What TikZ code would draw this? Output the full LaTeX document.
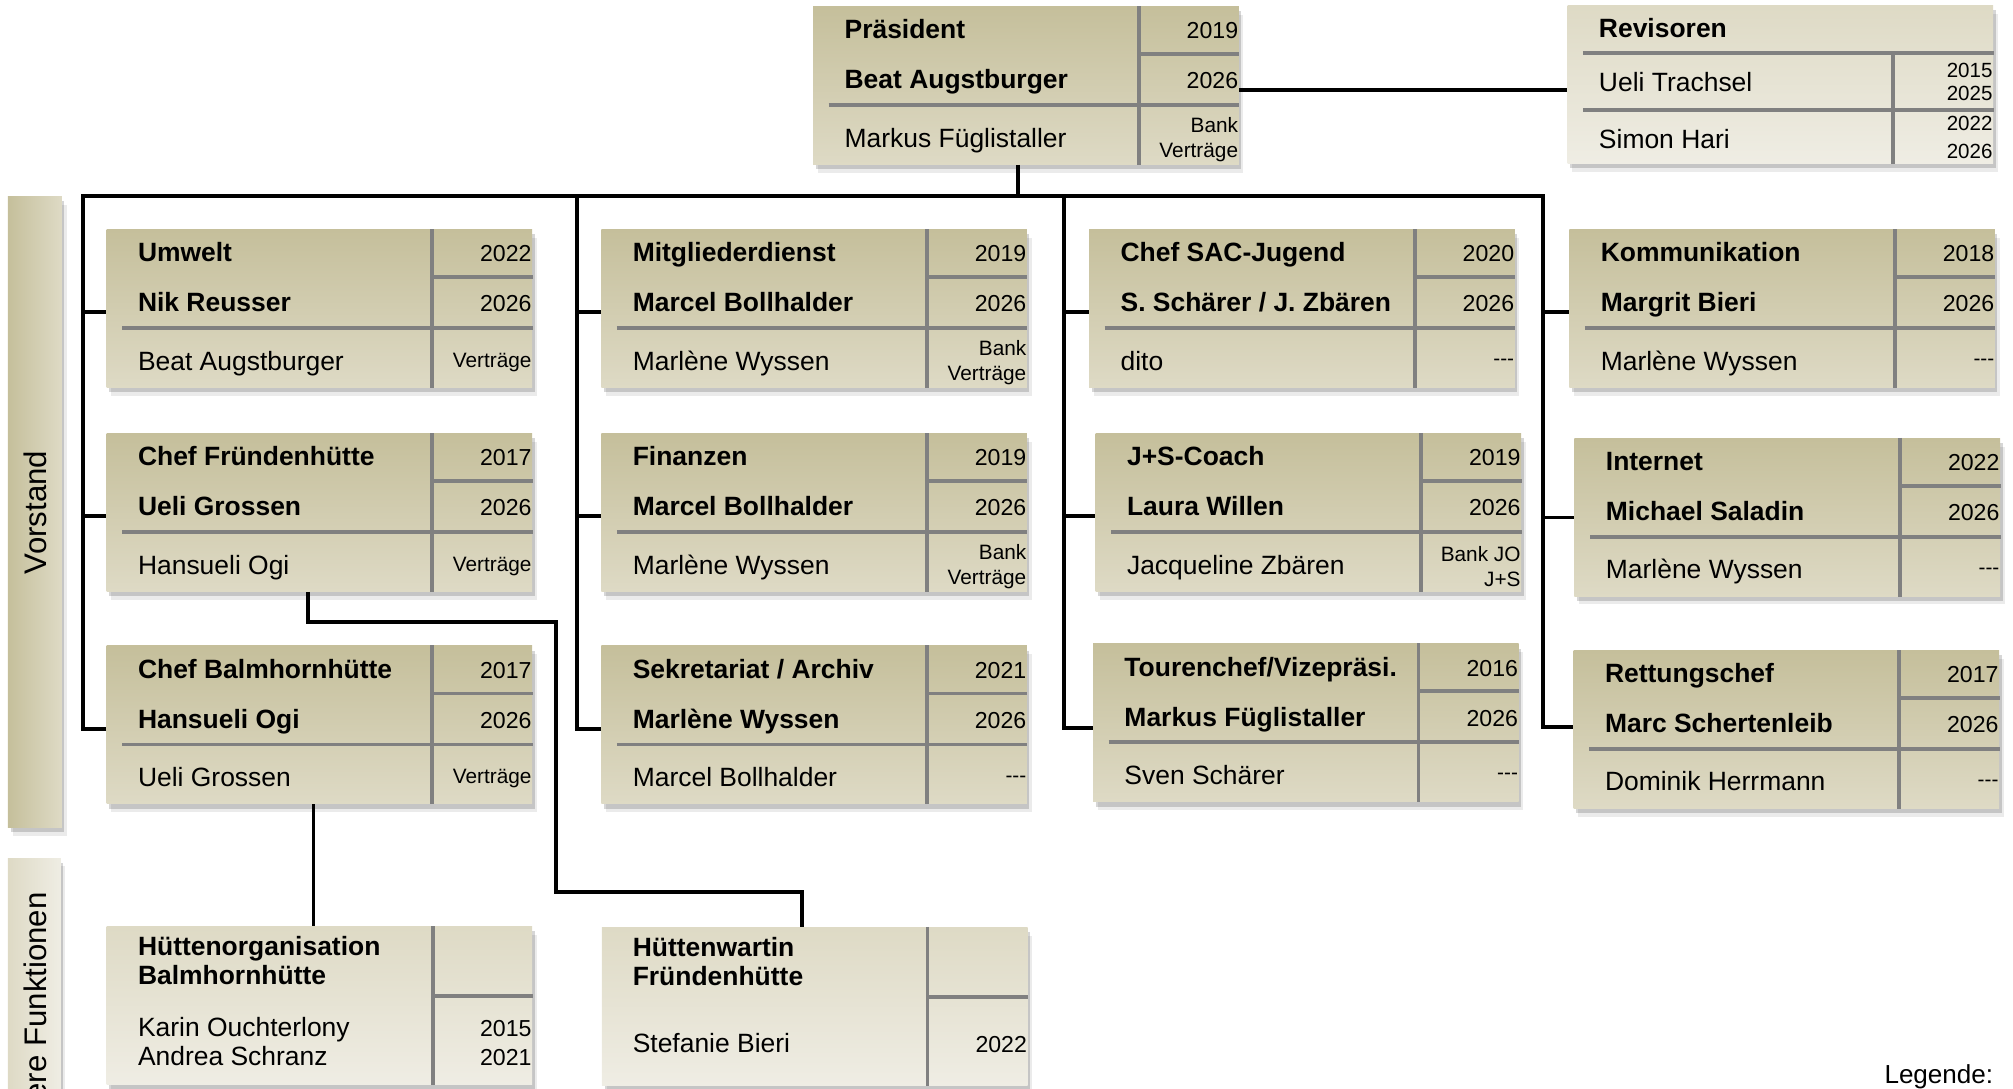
\documentclass[tikz,border=0pt]{standalone}
\usepackage{fontspec}
\setmainfont{Liberation Sans}
\usetikzlibrary{calc,shadows}
\definecolor{tanD}{RGB}{197,191,155}
\definecolor{tanL}{RGB}{222,218,197}
\definecolor{tanW}{RGB}{239,237,228}
\definecolor{divc}{RGB}{128,128,128}
\tikzset{
  softshadow/.style={
    general shadow={fill=black,opacity=.08,shadow xshift=1.8pt,shadow yshift=-3.2pt},
    general shadow={fill=black,opacity=.16,shadow xshift=1.0pt,shadow yshift=-1.9pt}},
  orgbox/.style={anchor=north west,inner sep=0pt,minimum width=165.75pt,minimum height=61.5pt,
    top color=tanD,bottom color=tanL,draw=none,softshadow},
  lightbox/.style={orgbox,top color=tanL,bottom color=tanW},
  divl/.style={draw=divc,line width=1.4pt},
  conn/.style={draw=black,line width=1.45pt},
  ttl/.style={anchor=base west,inner sep=0pt,font=\fontsize{10.3pt}{12pt}\selectfont\bfseries},
  txt/.style={anchor=base west,inner sep=0pt,font=\fontsize{10.3pt}{12pt}\selectfont},
  yr/.style={anchor=base east,inner sep=0pt,font=\fontsize{9pt}{11pt}\selectfont},
  smallyr/.style={anchor=base east,inner sep=0pt,font=\fontsize{8pt}{9.75pt}\selectfont},
  note/.style={anchor=east,inner sep=0pt,align=right,font=\fontsize{8.1pt}{9.75pt}\selectfont},
  lab/.style={inner sep=0pt,rotate=90,anchor=base,font=\fontsize{12.15pt}{14pt}\selectfont},
}
% name, left, top, title, person, deputy, year1, note
\newcommand{\orgbx}[8]{%
  \node[orgbox] (#1) at (#2,#3) {};
  \draw[divl] ($(#1.north west)+(254,0)$) -- ($(#1.south west)+(254,0)$);
  \draw[divl] ($(#1.north west)+(12.5,77.1)$) -- ($(#1.north east)+(0,77.1)$);
  \draw[divl] ($(#1.north west)+(254,37.4)$) -- ($(#1.north east)+(0,37.4)$);
  \node[ttl] (#1-t) at ($(#1.north west)+(24.5,25.6)$) {#4};
  \node[ttl] (#1-p) at ($(#1.north west)+(24.5,64.6)$) {#5};
  \node[txt] (#1-d) at ($(#1.north west)+(24.5,109.8)$) {#6};
  \node[yr] (#1-y1) at ($(#1.north east)+(-0.5,25.6)$) {#7};
  \node[yr] (#1-y2) at ($(#1.north east)+(-0.5,64.6)$) {2026};
  \node[note] (#1-n) at ($(#1.north east)+(-0.5,104)$) {#8};
}
\begin{document}
\begin{tikzpicture}[x=0.5pt,y=-0.5pt]
\useasboundingbox (0,0) rectangle (1568,848);
\clip (0,0) rectangle (1568,848);

% side bars
\node[anchor=north west,inner sep=0pt,minimum width=21pt,minimum height=245.65pt,
  left color=tanD,right color=tanL,softshadow] (vbar) at (5.8,152.7) {};
\node[lab] (vlab) at (36.2,399.2) {Vorstand};
\node[anchor=north west,inner sep=0pt,minimum width=20.6pt,minimum height=120pt,
  left color=tanL,right color=tanW,softshadow] (wbar) at (5.8,668) {};
\node[lab,anchor=base east] (wlab) at (36.2,694.6) {ere Funktionen};

% boxes
\orgbx{pres}{633}{4.7}{Präsident}{Beat Augstburger}{Markus Füglistaller}{2019}{Bank\\Verträge}
\orgbx{umw}{82.6}{178.4}{Umwelt}{Nik Reusser}{Beat Augstburger}{2022}{Verträge}
\orgbx{fru}{82.6}{337.3}{Chef Fründenhütte}{Ueli Grossen}{Hansueli Ogi}{2017}{Verträge}
\orgbx{bal}{82.6}{502.7}{Chef Balmhornhütte}{Hansueli Ogi}{Ueli Grossen}{2017}{Verträge}
\orgbx{mit}{468}{178.4}{Mitgliederdienst}{Marcel Bollhalder}{Marlène Wyssen}{2019}{Bank\\Verträge}
\orgbx{fin}{468}{337.3}{Finanzen}{Marcel Bollhalder}{Marlène Wyssen}{2019}{Bank\\Verträge}
\orgbx{sek}{468}{502.7}{Sekretariat / Archiv}{Marlène Wyssen}{Marcel Bollhalder}{2021}{-{}-{}-}
\orgbx{sac}{848}{178.4}{Chef SAC-Jugend}{S. Schärer / J. Zbären}{dito}{2020}{-{}-{}-}
\orgbx{js}{853}{337.3}{J+S-Coach}{Laura Willen}{Jacqueline Zbären}{2019}{Bank JO\\J+S}
\orgbx{tour}{851}{501}{Tourenchef/Vizepräsi.}{Markus Füglistaller}{Sven Schärer}{2016}{-{}-{}-}
\orgbx{kom}{1222}{178.4}{Kommunikation}{Margrit Bieri}{Marlène Wyssen}{2018}{-{}-{}-}
\orgbx{int}{1226}{341}{Internet}{Michael Saladin}{Marlène Wyssen}{2022}{-{}-{}-}
\orgbx{ret}{1225.3}{506.3}{Rettungschef}{Marc Schertenleib}{Dominik Herrmann}{2017}{-{}-{}-}

% Revisoren
\node[lightbox] (rev) at (1220.6,3.9) {};
\draw[divl] ($(rev.north west)+(12.4,37.4)$) -- ($(rev.north east)+(0,37.4)$);
\draw[divl] ($(rev.north west)+(12.4,81.8)$) -- ($(rev.north east)+(0,81.8)$);
\draw[divl] ($(rev.north west)+(254,37.4)$) -- ($(rev.south west)+(254,0)$);
\node[ttl] (rev-t) at ($(rev.north west)+(24.5,25.5)$) {Revisoren};
\node[txt] (rev-a) at ($(rev.north west)+(24.5,67.6)$) {Ueli Trachsel};
\node[txt] (rev-b) at ($(rev.north west)+(24.5,111.5)$) {Simon Hari};
\node[smallyr] (rev-y1) at ($(rev.north east)+(-0.5,56.6)$) {2015};
\node[smallyr] (rev-y2) at ($(rev.north east)+(-0.5,74.5)$) {2025};
\node[smallyr] (rev-y3) at ($(rev.north east)+(-0.5,97.4)$) {2022};
\node[smallyr] (rev-y4) at ($(rev.north east)+(-0.5,119.4)$) {2026};

% further functions
\node[lightbox] (ho) at (82.6,721.3) {};
\draw[divl] ($(ho.north west)+(254.7,0)$) -- ($(ho.south west)+(254.7,0)$);
\draw[divl] ($(ho.north west)+(254.7,54.7)$) -- ($(ho.north east)+(0,54.7)$);
\node[ttl] (ho-t1) at ($(ho.north west)+(24.5,22.7)$) {Hüttenorganisation};
\node[ttl] (ho-t2) at ($(ho.north west)+(24.5,45.7)$) {Balmhornhütte};
\node[txt] (ho-p1) at ($(ho.north west)+(24.5,86.3)$) {Karin Ouchterlony};
\node[txt] (ho-p2) at ($(ho.north west)+(24.5,108.7)$) {Andrea Schranz};
\node[yr] (ho-y1) at ($(ho.north east)+(-0.5,86.3)$) {2015};
\node[yr] (ho-y2) at ($(ho.north east)+(-0.5,108.7)$) {2021};

\node[lightbox] (hw) at (468.5,722) {};
\draw[divl] ($(hw.north west)+(254,0)$) -- ($(hw.south west)+(254,0)$);
\draw[divl] ($(hw.north west)+(254,54.7)$) -- ($(hw.north east)+(0,54.7)$);
\node[ttl] (hw-t1) at ($(hw.north west)+(24,22.7)$) {Hüttenwartin};
\node[ttl] (hw-t2) at ($(hw.north west)+(24,45.7)$) {Fründenhütte};
\node[txt] (hw-p1) at ($(hw.north west)+(24,97.7)$) {Stefanie Bieri};
\node[yr] (hw-y1) at ($(hw.north east)+(-0.5,97.7)$) {2022};

% connectors
\coordinate (bl) at (64.6,152.7);
\coordinate (br) at (1202,152.7);
\draw[conn] (793,0 |- pres.south) -- (793,152.7);
\draw[conn] (pres.east |- 0,70) -- (rev.west |- 0,70);
\draw[conn] (bal.west |- 0,568) -- (64.6,568) -- (bl) -- (br) -- (1202,566) -- (ret.west |- 0,566);
\draw[conn] (64.6,243) -- (umw.west |- 0,243);
\draw[conn] (64.6,402) -- (fru.west |- 0,402);
\draw[conn] (449.5,152.7) -- (449.5,568) -- (sek.west |- 0,568);
\draw[conn] (449.5,243) -- (mit.west |- 0,243);
\draw[conn] (449.5,402) -- (fin.west |- 0,402);
\draw[conn] (829,152.7) -- (829,567) -- (tour.west |- 0,567);
\draw[conn] (829,243) -- (sac.west |- 0,243);
\draw[conn] (829,402) -- (js.west |- 0,402);
\draw[conn] (1202,243) -- (kom.west |- 0,243);
\draw[conn] (1202,403) -- (int.west |- 0,403);
\draw[conn] (240,0 |- fru.south) -- (240,484.5) -- (433,484.5) -- (433,695) -- (624.6,695) -- (624.6,0 |- hw.north);
\draw[conn,line width=1pt] (244.3,0 |- bal.south) -- (244.3,0 |- ho.north);

\node[txt,font=\fontsize{10.15pt}{12pt}\selectfont] (leg) at (1467.5,843.6) {Legende:};
\end{tikzpicture}
\end{document}
